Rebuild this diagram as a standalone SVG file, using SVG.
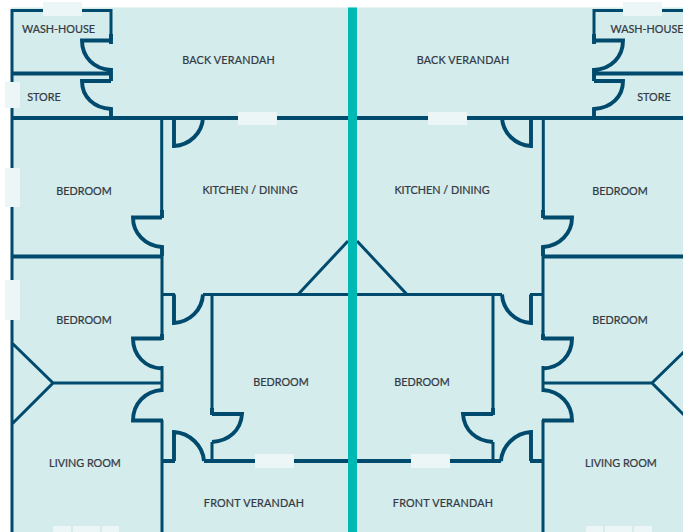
<svg xmlns="http://www.w3.org/2000/svg" width="683" height="532" viewBox="0 0 683 532">
<style>
.w{fill:none;stroke:#004a6e;stroke-width:3;stroke-linejoin:miter}
.d{stroke-width:3.9}
.win{fill:#ecf6f7}
text{font-family:"Lato","Liberation Sans",sans-serif;font-size:10.8px;fill:#333a42;stroke:#333a42;stroke-width:0.22px;text-anchor:middle}
</style>
<defs>
<g id="half">
<g class="w">
<path d="M12 9V532M12 10.5H111V40M161.7 118V212M162 256V340M162 366V392M53 383H162M12 343L53 383L12 424M162 420V532M163 294.5H175M203 294.5H212M212 294.5H348M212 294V415M212 442V461M298 294.5L348 241"/>
<path class="d" d="M12 73.500H111M12 118H348M12 256.500H162M162 461H175M204 461H348M111 34V44M111 68V81M111 81H82C82 97 94 108 111 109V118M111 40.500H82C82 57 94 69 111 70M165 118H174V146C190 145 202 133 203 118H211M162 210V218M162 217.500H133C133 233 145 246 162 247V256M162 334V340M162 338.500H133C133 355 145 368 162 368.500M162 390C145 391 133 404 133 420.500H163M174 294.500V323C190 322 202 310 203 294.500M174 461V432C190 433 203 446 204 461M212 414H242C241 430 229 441 212 442M212 408V415"/>
</g>
<rect class="win" x="43" y="2" width="39" height="14"/>
<rect class="win" x="5" y="82" width="15" height="26"/>
<rect class="win" x="5" y="168" width="15" height="39"/>
<rect class="win" x="5" y="280" width="15" height="40"/>
<rect class="win" x="238" y="112" width="39" height="13"/>
<rect class="win" x="255" y="454" width="39" height="14"/>
<rect class="win" x="53" y="526" width="18" height="6"/>
<rect class="win" x="73" y="526" width="27" height="6"/>
<rect class="win" x="102" y="526" width="17" height="6"/>
</g>
</defs>
<rect x="11" y="7.5" width="672" height="524.5" fill="#d5eced"/>
<g id="walls-left"><use href="#half"/></g>
<g id="walls-right"><use href="#half" transform="matrix(-1 0 0 1 705 0)"/></g>
<rect id="party-wall" x="348" y="7.500" width="9" height="524.5" fill="#00b9b4"/>
<g id="labels">
<text x="58.500" y="33">WASH-HOUSE</text>
<text x="647" y="33">WASH-HOUSE</text>
<text x="228.500" y="63.500" letter-spacing=".2">BACK VERANDAH</text>
<text x="463" y="63.500" letter-spacing=".2">BACK VERANDAH</text>
<text x="44" y="101">STORE</text>
<text x="654" y="101">STORE</text>
<text x="250" y="193.500">KITCHEN / DINING</text>
<text x="442" y="193.500">KITCHEN / DINING</text>
<text x="84" y="194.700">BEDROOM</text>
<text x="620" y="194.700">BEDROOM</text>
<text x="84" y="323.700">BEDROOM</text>
<text x="620" y="323.700">BEDROOM</text>
<text x="281" y="385.700">BEDROOM</text>
<text x="422" y="385.700">BEDROOM</text>
<text x="85" y="466.700">LIVING ROOM</text>
<text x="621" y="466.700">LIVING ROOM</text>
<text x="254" y="506.700" letter-spacing=".2">FRONT VERANDAH</text>
<text x="443" y="506.700" letter-spacing=".2">FRONT VERANDAH</text>
</g>
</svg>
